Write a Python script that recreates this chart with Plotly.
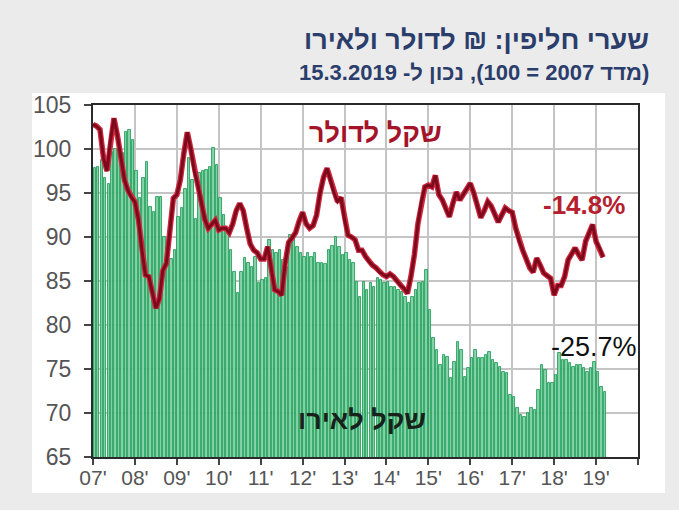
import plotly.graph_objects as go

START_YEAR = 2007

usd_index = [
    102.8, 102.6, 102.2, 99.0, 97.5, 101.0, 103.5, 101.5, 99.0, 96.5, 95.3, 94.5,
    94.0, 92.0, 88.5, 85.7, 85.5, 83.5, 81.9, 83.0, 86.2, 87.0, 91.0, 94.4,
    94.8, 96.5, 99.5, 101.9, 100.0, 97.5, 95.9, 94.0, 92.0, 91.0, 91.5, 91.9,
    90.8, 91.0, 91.0, 90.5, 91.5, 93.0, 93.8, 93.0, 91.0, 89.2, 88.5, 88.2,
    87.5, 87.5, 88.9, 86.5, 84.0, 83.8, 83.4, 87.0, 89.4, 89.9, 90.5, 91.8,
    92.8, 91.5, 91.0, 91.3, 92.5, 95.0, 96.8, 97.8, 96.5, 95.0, 94.0, 94.5,
    92.0, 90.2, 90.0, 89.7, 88.5, 88.5, 87.8, 87.2, 86.8, 86.5, 86.0, 85.7,
    85.5, 85.8, 85.5, 85.0, 84.5, 84.2, 83.6, 85.5, 88.0, 91.5, 94.0, 95.7,
    95.9, 95.7, 97.0, 94.8, 94.2, 93.2, 92.3, 93.8, 95.1, 94.2, 94.8, 95.5,
    96.1, 95.0, 93.5, 92.2, 93.0, 94.0, 93.5, 92.5, 91.7, 92.5, 93.3, 93.0,
    92.8, 91.0, 89.5, 88.5, 87.5, 86.5, 86.0, 87.6, 86.8, 85.9, 85.6, 85.3,
    83.4, 84.5, 84.5, 85.5, 87.4, 88.0, 88.75, 88.0, 87.4, 89.5, 90.5, 91.4,
    89.5, 88.75, 87.7,
]

eur_index = [
    97.8, 98.0, 98.75, 96.7, 96.0, 99.7, 100.0, 100.7, 99.5, 101.9, 102.2, 101.0,
    97.5, 94.4, 96.7, 98.5, 93.4, 92.8, 94.5, 94.5, 90.0, 88.3, 87.5, 88.5,
    92.3, 93.3, 95.5, 99.0, 96.5, 92.0, 97.3, 97.5, 97.6, 98.0, 100.1, 98.2,
    94.4, 92.5, 90.5, 88.5, 86.0, 83.6, 86.0, 87.6, 87.0, 86.6, 87.7, 84.8,
    85.1, 85.3, 89.7, 88.5, 88.2, 88.5, 87.4, 86.6, 90.2, 89.9, 88.9, 88.2,
    87.7, 88.2, 87.7, 88.2, 87.0, 87.0, 86.9, 88.5, 89.0, 90.0, 88.9, 88.0,
    88.2, 87.4, 87.0, 84.9, 83.2, 84.9, 84.0, 84.8, 84.3, 85.3, 85.1, 84.8,
    84.9, 84.3, 84.3, 84.0, 83.8, 83.2, 82.5, 83.2, 84.0, 84.8, 84.9, 86.3,
    81.7, 78.5, 77.2, 75.5, 76.6, 76.4, 74.0, 75.8, 78.1, 77.2, 74.1, 75.1,
    76.25, 77.2, 76.25, 76.25, 76.6, 76.9, 76.0, 75.7, 75.2, 74.7, 74.5, 72.0,
    71.8, 70.6, 69.8, 69.5, 70.0, 70.6, 70.3, 72.6, 75.5, 74.9, 73.4, 73.4,
    74.3, 76.8, 76.0, 76.0, 75.7, 75.2, 75.5, 75.5, 75.1, 74.7, 75.1, 75.8,
    74.7, 73.0, 72.4,
]

tick_years = list(range(2007, 2021))
tick_labels = ["07'", "08'", "09'", "10'", "11'", "12'", "13'", "14'",
               "15'", "16'", "17'", "18'", "19'", ""]
y_ticks = [65, 70, 75, 80, 85, 90, 95, 100, 105]

title_line1 = "שערי חליפין: ₪ לדולר ולאירו"
title_line2 = "(מדד 2007 = 100), נכון ל- 15.3.2019"
usd_label = "שקל לדולר"
eur_label = "שקל לאירו"
usd_change = "-14.8%"
eur_change = "-25.7%"

RLE, PDF = "\u202B", "\u202C"

x_line = [START_YEAR + i / 12 for i in range(len(usd_index))]
x_bar = [START_YEAR + (i + 0.5) / 12 for i in range(len(eur_index))]

fig = go.Figure()
fig.add_trace(go.Bar(
    x=x_bar, y=eur_index, width=[0.7 / 12] * len(eur_index),
    marker=dict(color="#86d3a9", line=dict(color="#26a05c", width=0.9)),
    showlegend=False, hoverinfo="skip",
))
fig.add_trace(go.Scatter(
    x=x_line, y=usd_index, mode="lines",
    line=dict(color="#d0283e", width=5.5),
    showlegend=False, hoverinfo="skip",
))
fig.add_trace(go.Scatter(
    x=x_line, y=usd_index, mode="lines",
    line=dict(color="#7d0a1c", width=3),
    showlegend=False, hoverinfo="skip",
))

font_family = "Liberation Sans, Arial, sans-serif"

L, R, T, B = 93, 41, 105, 53
W, H = 679, 510
pw, ph = W - L - R, H - T - B


def px_x(px):
    return (px - L) / pw


def px_y(py):
    return (H - B - py) / ph


fig.add_shape(type="rect", xref="paper", yref="paper",
              x0=px_x(32), x1=px_x(665), y0=px_y(493), y1=px_y(93),
              fillcolor="white", line=dict(width=0), layer="below")

fig.add_annotation(text=RLE + title_line1 + PDF, xref="paper", yref="paper",
                   x=px_x(651), y=px_y(40), xanchor="right", yanchor="middle",
                   showarrow=False,
                   font=dict(family=font_family, size=27, color="#2b3d6b", weight="bold"))
fig.add_annotation(text=RLE + title_line2 + PDF, xref="paper", yref="paper",
                   x=px_x(651), y=px_y(72), xanchor="right", yanchor="middle",
                   showarrow=False,
                   font=dict(family=font_family, size=22, color="#2b3d6b", weight="bold"))

fig.add_annotation(text=RLE + usd_label + PDF, x=2013.73, y=101.8,
                   showarrow=False,
                   font=dict(family=font_family, size=27, color="#a3142a", weight="bold"))
fig.add_annotation(text=RLE + eur_label + PDF, x=2013.42, y=69.2,
                   showarrow=False,
                   font=dict(family=font_family, size=27, color="#16221a", weight="bold"))
fig.add_annotation(text=usd_change, x=2018.72, y=93.6, showarrow=False,
                   font=dict(family=font_family, size=26, color="#b5202e", weight="bold"))
fig.add_annotation(text=eur_change, x=2018.96, y=77.5, showarrow=False,
                   font=dict(family=font_family, size=27, color="#111111"))

fig.update_layout(
    width=W, height=H,
    margin=dict(l=L, r=R, t=T, b=B, pad=0),
    paper_bgcolor="#ebebeb", plot_bgcolor="white",
    bargap=0, barmode="overlay",
    font=dict(family=font_family),
)
fig.update_xaxes(
    range=[2007, 2020], tickmode="array", tickvals=tick_years, ticktext=tick_labels,
    showgrid=True, gridcolor="#c4c4c4", gridwidth=1.5,
    showline=True, linecolor="#2a2a2a", linewidth=2, mirror=True,
    ticks="outside", ticklen=6, tickcolor="#444", tickwidth=1.5,
    ticklabelstandoff=-5,
    tickfont=dict(size=21, color="#555555", family=font_family),
    zeroline=False,
)
fig.update_yaxes(
    range=[65, 105], tickmode="array", tickvals=y_ticks,
    showgrid=True, gridcolor="#c4c4c4", gridwidth=1.5,
    showline=True, linecolor="#2a2a2a", linewidth=2, mirror=True,
    ticks="outside", ticklen=7, tickcolor="#444", tickwidth=1.5,
    ticklabelstandoff=8,
    tickfont=dict(size=23, color="#555555", family=font_family),
    zeroline=False,
)

fig.write_html(
    "out.html",
    config={"displayModeBar": False},
    post_script="document.body.style.margin='0';document.body.style.background='#ebebeb';",
)
